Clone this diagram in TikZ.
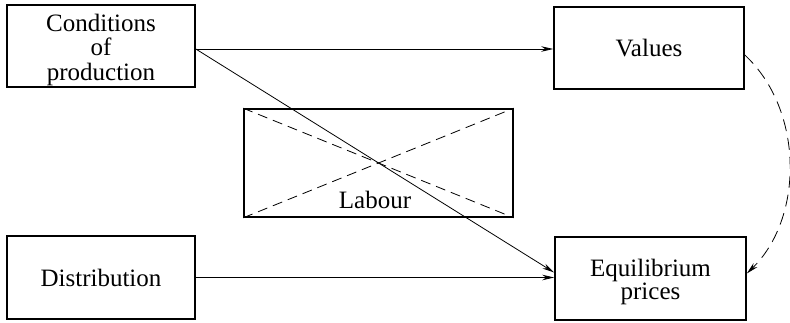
\documentclass[tikz,border=0pt]{standalone}
\usepackage{fontspec}
\setmainfont{Liberation Serif}
\usetikzlibrary{arrows.meta}
\newcommand{\stacktext}[1]{\raisebox{-4.5pt}[\height][\depth]{\begin{tabular}{@{}c@{}}#1\end{tabular}}}
\begin{document}
\begin{tikzpicture}[x=1pt,y=-1pt,
  box/.style={draw, line width=1.6pt, inner sep=0pt, align=center,
    font=\fontsize{25}{23.5}\selectfont},
  conn/.style={line width=0.8pt, -{Stealth[length=12pt,width=5.5pt]}},
  dsh/.style={line width=0.8pt, dash pattern=on 10pt off 6pt}]
\useasboundingbox (0,0) rectangle (790,322);
\node[box, minimum width=188pt, minimum height=82pt] (cond) at (101,46) {\stacktext{Conditions\\of\\production}};
\node[box, minimum width=190pt, minimum height=82pt] (val) at (649,48) {Values};
\node[box, minimum width=269pt, minimum height=108pt] (lab) at (378.5,163) {};
\node[font=\fontsize{25}{25}\selectfont, inner sep=0pt] (labt) at (375,200) {Labour};
\node[box, minimum width=188pt, minimum height=83pt] (dist) at (101,277.5) {Distribution};
\node[box, minimum width=191pt, minimum height=83pt] (eq) at (650.5,278.5) {\stacktext{Equilibrium\\prices}};
\draw[dsh] (lab.north west) -- (lab.south east);
\draw[dsh] (lab.south west) -- (lab.north east);
\draw[conn] ([yshift=-3pt]cond.east) -- ([yshift=-3pt]cond.east -| val.west);
\draw[conn] ([yshift=-3pt]cond.east) -- ([yshift=6pt]eq.west);
\draw[conn] (dist.east) -- (dist.east -| eq.west);
\draw[line width=0.8pt, dash pattern=on 12pt off 7pt, -{Stealth[length=12pt,width=5.5pt]}]
  ([yshift=-7pt]val.east) .. controls (804,110) and (804,218) .. ([yshift=5pt]eq.east);
\end{tikzpicture}
\end{document}
